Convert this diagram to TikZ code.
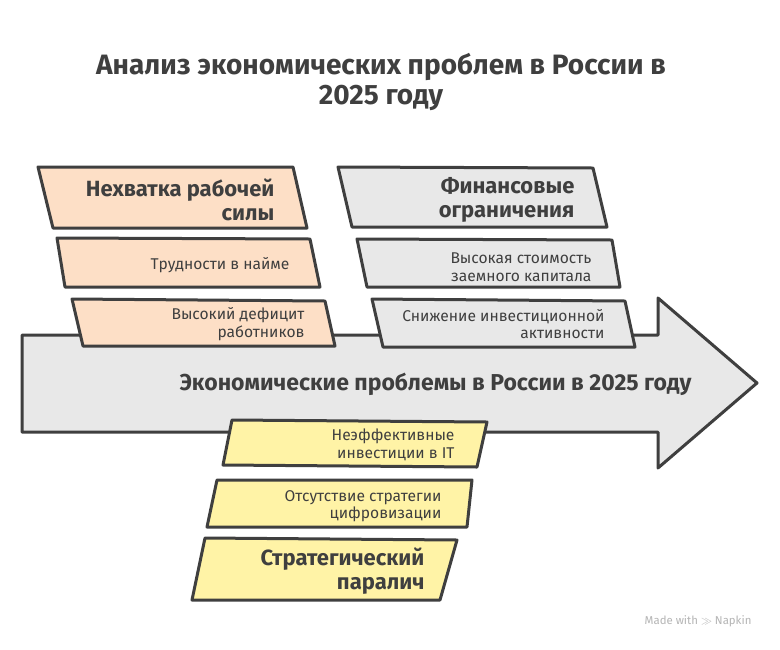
\documentclass[tikz,border=0pt]{standalone}
\usepackage{fontspec}
\setmainfont{Fira Sans}

\definecolor{inkgray}{HTML}{3F3F3F}
\definecolor{peach}{HTML}{FDDFC6}
\definecolor{lightgray}{HTML}{E8E8E8}
\definecolor{paleyellow}{HTML}{FFF3A6}
\definecolor{markgray}{HTML}{B5B5B5}

\tikzset{
  outline/.style={draw=inkgray, line width=3pt, line join=round},
  headtext/.style={anchor=east, align=right, text=inkgray, font=\fontsize{22}{24}\selectfont\bfseries},
  itemtext/.style={anchor=east, align=right, text=inkgray, font=\fontsize{15.6}{17.5}\selectfont}
}

\begin{document}
\begin{tikzpicture}[x=1pt,y=-1pt]
        \useasboundingbox (0,0) rectangle (780,649);
        \fill [white] (0,0) rectangle (780,649);

        % title
        \node (title) [align=center, text=inkgray, font=\fontsize{28}{30}\selectfont\bfseries]
              at (381,82) {Анализ экономических проблем в России в\\2025 году};

        % main arrow
        \filldraw [outline, fill=lightgray] (22,335) -- (658,335) -- (658,298) -- (757,383)
                  -- (658,468) -- (658,432) -- (22,432) -- cycle;
        \node (spine) [anchor=east, text=inkgray, font=\fontsize{23}{24}\selectfont\bfseries]
              at (695,384) {Экономические проблемы в России в 2025 году};

        % labour column
        \filldraw [outline, fill=peach] (38,167) -- (293,167) -- (307,228) -- (53,228) -- cycle;
        \filldraw [outline, fill=peach] (57,238) -- (310,239) -- (320,287) -- (65,287) -- cycle;
        \filldraw [outline, fill=peach] (72,299) -- (325,301) -- (335,346) -- (83,346) -- cycle;
        \node (labour) [headtext] at (278,200) {Нехватка рабочей\\силы};
        \node (hiring) [itemtext] at (293,265) {Трудности в найме};
        \node (deficit) [itemtext] at (308,324) {Высокий дефицит\\работников};

        % finance column
        \filldraw [outline, fill=lightgray] (338,167) -- (593,168) -- (607,227) -- (352,227) -- cycle;
        \filldraw [outline, fill=lightgray] (357,239) -- (612,240) -- (620,287) -- (367,287) -- cycle;
        \filldraw [outline, fill=lightgray] (372,299) -- (625,301) -- (635,347) -- (383,347) -- cycle;
        \node (finance) [headtext] at (578,200) {Финансовые\\ограничения};
        \node (credit) [itemtext] at (595,267) {Высокая стоимость\\заемного капитала};
        \node (invest) [itemtext] at (608,324) {Снижение инвестиционной\\активности};

        % strategy column
        \filldraw [outline, fill=paleyellow] (232,420) -- (487,422) -- (477,467) -- (223,465) -- cycle;
        \filldraw [outline, fill=paleyellow] (217,480) -- (472,480) -- (467,527) -- (207,527) -- cycle;
        \filldraw [outline, fill=paleyellow] (205,538) -- (457,540) -- (440,600) -- (192,600) -- cycle;
        \node (itspend) [itemtext] at (458,445) {Неэффективные\\инвестиции в IT};
        \node (digital) [itemtext] at (445,506) {Отсутствие стратегии\\цифровизации};
        \node (paralysis) [headtext] at (428,571) {Стратегический\\паралич};

        \node (made) [anchor=east, text=markgray, font=\fontsize{11.4}{13}\selectfont]
              at (755,621) {Made with \(\gg\) Napkin};
    \end{tikzpicture}
\end{document}
